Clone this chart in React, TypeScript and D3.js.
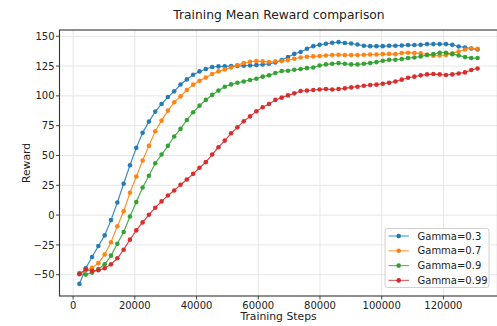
import React from "react";
import * as d3 from "d3";

const steps = [
  2048, 4096, 6144, 8192, 10240, 12288, 14336, 16384, 18432, 20480, 22528, 24576, 26624, 28672, 30720, 32768,
  34816, 36864, 38912, 40960, 43008, 45056, 47104, 49152, 51200, 53248, 55296, 57344, 59392, 61440, 63488, 65536,
  67584, 69632, 71680, 73728, 75776, 77824, 79872, 81920, 83968, 86016, 88064, 90112, 92160, 94208, 96256, 98304,
  100352, 102400, 104448, 106496, 108544, 110592, 112640, 114688, 116736, 118784, 120832, 122880, 124928, 126976, 129024, 131072,
];

const gamma03 = [
  -57.7, -44.6, -35.1, -25.9, -17.0, -4.2, 10.6, 26.3, 41.8, 56.4, 69.0, 78.4, 86.8, 93.2, 99.0, 103.8,
  109.5, 113.8, 117.7, 120.5, 122.5, 124.2, 124.7, 124.7, 125.0, 125.0, 125.3, 125.5, 125.8, 126.3, 126.9, 128.0,
  130.0, 132.6, 135.2, 136.8, 139.5, 141.7, 142.8, 143.7, 144.5, 145.1, 144.3, 143.9, 143.1, 142.0, 141.7, 141.7,
  141.7, 142.0, 142.0, 142.3, 142.6, 142.6, 142.8, 143.4, 143.4, 143.4, 143.4, 142.8, 141.4, 140.6, 139.7, 138.9,
];

const gamma07 = [
  -48.5, -46.5, -44.2, -40.3, -33.0, -22.7, -9.4, 3.3, 18.7, 32.4, 45.8, 58.1, 70.3, 79.2, 87.6, 94.6,
  99.6, 104.9, 109.4, 112.7, 115.3, 118.3, 120.5, 122.2, 123.8, 125.8, 127.5, 128.6, 129.2, 128.9, 128.3, 129.0,
  129.2, 130.0, 131.1, 132.2, 132.8, 133.1, 133.4, 133.9, 134.2, 134.5, 134.2, 134.2, 134.2, 134.5, 134.7, 134.7,
  135.0, 135.2, 135.0, 135.9, 136.2, 135.9, 135.6, 134.7, 133.6, 133.9, 134.2, 135.6, 137.2, 138.9, 139.7, 139.5,
];

const gamma09 = [
  -49.0, -49.9, -48.2, -45.2, -41.3, -34.0, -24.0, -14.2, -1.2, 10.9, 23.2, 33.0, 43.5, 50.8, 58.1, 65.9,
  72.3, 79.8, 86.2, 91.8, 96.6, 100.8, 104.4, 107.7, 109.6, 111.0, 112.1, 113.3, 114.4, 116.1, 117.2, 119.2,
  120.8, 121.1, 121.9, 122.5, 123.3, 123.8, 125.5, 126.4, 126.9, 127.5, 126.9, 126.4, 126.4, 126.9, 127.5, 128.3,
  129.4, 130.2, 130.3, 130.9, 131.7, 132.2, 133.1, 134.2, 135.0, 136.2, 136.2, 135.0, 133.9, 132.5, 131.7, 131.7,
];

const gamma099 = [
  -49.6, -45.5, -46.8, -46.3, -44.6, -41.3, -36.2, -29.0, -20.6, -12.8, -6.1, 0.3, 6.2, 11.5, 16.5, 20.7,
  25.4, 29.9, 34.6, 39.7, 44.4, 50.8, 56.9, 62.5, 68.6, 73.6, 78.7, 82.8, 87.0, 90.4, 93.2, 96.6,
  98.5, 100.4, 102.1, 104.1, 104.4, 104.9, 105.4, 105.7, 105.4, 105.7, 106.3, 107.1, 107.7, 108.5, 109.1, 109.4,
  110.2, 110.9, 112.1, 113.6, 115.2, 116.1, 117.2, 118.0, 118.3, 118.0, 117.5, 118.0, 118.8, 119.7, 121.7, 123.0,
];

const seriesNames = ["Gamma=0.3", "Gamma=0.7", "Gamma=0.9", "Gamma=0.99"];
const seriesValues = [gamma03, gamma07, gamma09, gamma099];
const colors = ["#1f77b4", "#ff7f0e", "#2ca02c", "#d62728"];

const xTicks = [0, 20000, 40000, 60000, 80000, 100000, 120000];
const yTicks = [-50, -25, 0, 25, 50, 75, 100, 125, 150];

const title = "Training Mean Reward comparison";
const xLabel = "Training Steps";
const yLabel = "Reward";

const W = 497;
const H = 326;
const left = 59.5;
const right = 497.5;
const top = 30;
const bottom = 296;
const FONT = "DejaVu Sans, sans-serif";

export default function App() {
  const xExt = d3.extent(steps) as [number, number];
  const xPad = (xExt[1] - xExt[0]) * 0.05;
  const x = d3.scaleLinear().domain([xExt[0] - xPad, xExt[1] + xPad]).range([left, right]);

  const all = seriesValues.flat();
  const yExt = d3.extent(all) as [number, number];
  const yPad = (yExt[1] - yExt[0]) * 0.05;
  const y = d3.scaleLinear().domain([yExt[0] - yPad, yExt[1] + yPad]).range([bottom, top]);

  const line = d3
    .line<number>()
    .x((_, i) => x(steps[i]))
    .y((d) => y(d));

  const legX = 385;
  const legY = 228.5;
  const legW = 104;
  const legH = 59;
  const rowGap = 14.8;

  return (
    <svg
      width={W}
      height={H}
      style={{ position: "absolute", left: 0, top: 0, background: "#fff" }}
      fontFamily={FONT}
    >
      <rect x={0} y={0} width={W} height={H} fill="#fff" />
      {/* grid */}
      {xTicks.map((t) => (
        <line key={"gx" + t} x1={x(t)} x2={x(t)} y1={top} y2={bottom} stroke="#e3e3e3" strokeWidth={0.9} />
      ))}
      {yTicks.map((t) => (
        <line key={"gy" + t} x1={left} x2={right} y1={y(t)} y2={y(t)} stroke="#e3e3e3" strokeWidth={0.9} />
      ))}
      {/* series */}
      {seriesValues.map((vals, si) => (
        <g key={"s" + si}>
          <path d={line(vals) || ""} fill="none" stroke={colors[si]} strokeWidth={1.2} strokeOpacity={0.85} />
          {vals.map((v, i) => (
            <circle key={i} cx={x(steps[i])} cy={y(v)} r={2.3} fill={colors[si]} fillOpacity={0.95} />
          ))}
        </g>
      ))}
      {/* spines */}
      <rect x={left} y={top} width={right - left} height={bottom - top} fill="none" stroke="#333" strokeWidth={1.1} />
      {/* x ticks */}
      {xTicks.map((t) => (
        <g key={"xt" + t}>
          <line x1={x(t)} x2={x(t)} y1={bottom} y2={bottom + 3.5} stroke="#333" strokeWidth={0.9} />
          <text x={x(t)} y={bottom + 12.5} textAnchor="middle" fontSize={10} fill="#222">
            {t}
          </text>
        </g>
      ))}
      {/* y ticks */}
      {yTicks.map((t) => (
        <g key={"yt" + t}>
          <line x1={left - 3.5} x2={left} y1={y(t)} y2={y(t)} stroke="#333" strokeWidth={0.9} />
          <text x={left - 5} y={y(t) + 3.6} textAnchor="end" fontSize={10} fill="#222">
            {t < 0 ? "\u2212" + Math.abs(t) : String(t)}
          </text>
        </g>
      ))}
      {/* labels */}
      <text x={(left + right) / 2 + 0.5} y={18.5} textAnchor="middle" fontSize={12.3} fill="#222">
        {title}
      </text>
      <text x={(left + right) / 2} y={320} textAnchor="middle" fontSize={10.8} fill="#222">
        {xLabel}
      </text>
      <text
        transform={`translate(29.5, ${(top + bottom) / 2}) rotate(-90)`}
        textAnchor="middle"
        fontSize={10.8}
        fill="#222"
      >
        {yLabel}
      </text>
      {/* legend */}
      <rect x={legX} y={legY} width={legW} height={legH} rx={2.5} fill="#fff" fillOpacity={0.85} stroke="#cccccc" strokeWidth={0.9} />
      {seriesNames.map((n, i) => {
        const cy = legY + 7.5 + i * rowGap;
        return (
          <g key={"lg" + i}>
            <line x1={legX + 3.5} x2={legX + 24} y1={cy} y2={cy} stroke={colors[i]} strokeWidth={1.2} strokeOpacity={0.7} />
            <circle cx={legX + 13.7} cy={cy} r={2.3} fill={colors[i]} />
            <text x={legX + 32.5} y={cy + 3.6} fontSize={10} fill="#222">
              {n}
            </text>
          </g>
        );
      })}
    </svg>
  );
}
